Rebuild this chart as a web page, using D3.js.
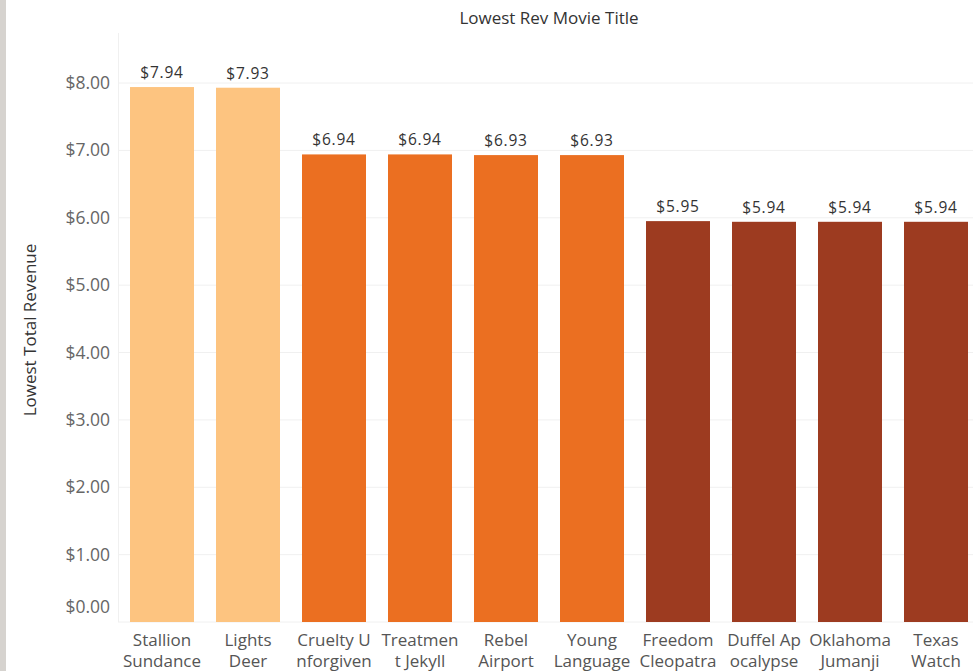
<!DOCTYPE html>
<html><head><meta charset="utf-8">
<script src="https://cdn.jsdelivr.net/npm/d3@7"></script>
<style>
html,body{margin:0;padding:0;background:#fff;}
svg{display:block;font-family:"Open Sans",sans-serif;}
</style></head>
<body>
<svg id="c" width="973" height="671"></svg>
<script>
const titles = [["Stallion","Sundance"],["Lights","Deer"],["Cruelty U","nforgiven"],["Treatmen","t Jekyll"],["Rebel","Airport"],["Young","Language"],["Freedom","Cleopatra"],["Duffel Ap","ocalypse"],["Oklahoma","Jumanji"],["Texas","Watch"]];
const revenue = [7.94,7.93,6.94,6.94,6.93,6.93,5.95,5.94,5.94,5.94];
const tierOf = [0,0,1,1,1,1,2,2,2,2];
const tierColors = ["#fdc480","#eb6f21","#9d3b20"];
const yTicks = [0,1,2,3,4,5,6,7,8];

const FONT = "'Open Sans',sans-serif";
const svg = d3.select("#c");
svg.append("rect").attr("x",0).attr("y",0).attr("width",6).attr("height",671).attr("fill","#d6d3cf");

const x = d3.scaleBand().domain(d3.range(titles.length)).range([119,979]).paddingInner(0.256).paddingOuter(0.128);
const y = d3.scaleLinear().domain([0,8]).range([622,83]);

svg.append("g").selectAll("line").data(yTicks).join("line")
  .attr("x1",118).attr("x2",973).attr("y1",d=>y(d)).attr("y2",d=>y(d))
  .attr("stroke","#f0f0f0").attr("stroke-width",1);
svg.append("line").attr("x1",118.5).attr("x2",118.5).attr("y1",33).attr("y2",622).attr("stroke","#f0f0f0");

const yAxis = svg.append("g").attr("transform","translate(118,0)")
  .call(d3.axisLeft(y).tickValues(yTicks).tickFormat(d=>"$"+d3.format(".2f")(d)).tickSize(0).tickPadding(8));
yAxis.select(".domain").remove();
yAxis.selectAll("text").attr("font-size",17.5).attr("fill","#666").attr("font-family",FONT)
  .attr("dy",(d)=> d===0 ? "-0.55em" : "0.32em");

svg.append("g").selectAll("rect").data(revenue).join("rect")
  .attr("x",(d,i)=>x(i)).attr("width",x.bandwidth())
  .attr("y",d=>y(d)).attr("height",d=>y(0)-y(d))
  .attr("fill",(d,i)=>tierColors[tierOf[i]]);

svg.append("g").selectAll("text").data(revenue).join("text")
  .attr("x",(d,i)=>x(i)+x.bandwidth()/2).attr("y",d=>y(d)-9)
  .attr("text-anchor","middle").attr("font-size",15.5).attr("fill","#333")
  .attr("letter-spacing","0.8px")
  .text(d=>"$"+d3.format(".2f")(d));

const xl = svg.append("g").selectAll("text").data(titles).join("text")
  .attr("x",(d,i)=>x(i)+x.bandwidth()/2).attr("y",646)
  .attr("text-anchor","middle").attr("font-size",17).attr("fill","#555");
xl.selectAll("tspan").data(d=>d).join("tspan")
  .attr("x",function(){return this.parentNode.getAttribute("x");})
  .attr("dy",(d,i)=>i===0?0:21).text(d=>d);

svg.append("text").attr("x",549).attr("y",24).attr("text-anchor","middle")
  .attr("font-size",17).attr("fill","#333").text("Lowest Rev Movie Title");
svg.append("text").attr("transform","translate(36,330) rotate(-90)").attr("text-anchor","middle")
  .attr("font-size",17).attr("fill","#333").text("Lowest Total Revenue");
</script>
</body></html>
